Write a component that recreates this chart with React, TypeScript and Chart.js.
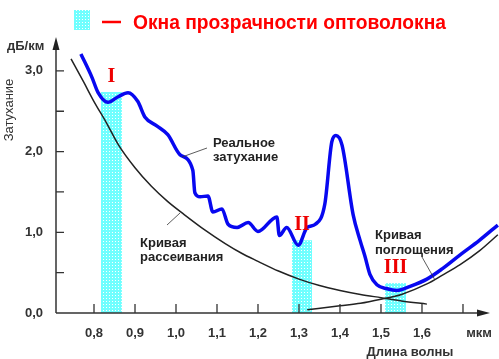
import React, { useEffect, useRef } from "react";
import { Chart, registerables } from "chart.js";
Chart.register(...registerables);

// Real attenuation (blue)
const realX = [0.768, 0.795, 0.81, 0.834, 0.859, 0.883, 0.907, 0.924, 0.953, 0.98, 1.01, 1.041, 1.046, 1.059, 1.078, 1.09, 1.112, 1.127, 1.149, 1.176, 1.2, 1.246, 1.252, 1.27, 1.298, 1.32, 1.34, 1.363, 1.38, 1.39, 1.405, 1.432, 1.449, 1.461, 1.473, 1.49, 1.515, 1.539, 1.571, 1.612, 1.65, 1.693, 1.74, 1.785];
const realY = [3.21, 2.92, 2.73, 2.61, 2.68, 2.73, 2.62, 2.43, 2.32, 2.21, 1.96, 1.77, 1.49, 1.44, 1.45, 1.25, 1.29, 1.1, 1.06, 1.12, 1.01, 1.19, 0.96, 1.06, 0.84, 1.06, 1.1, 1.35, 2.12, 2.2, 2.08, 1.22, 0.9, 0.7, 0.48, 0.35, 0.3, 0.28, 0.33, 0.42, 0.55, 0.72, 0.9, 1.09];

// Scattering curve
const scatterX = [0.744, 0.775, 0.8, 0.83, 0.86, 0.9, 0.94, 0.98, 1.02, 1.07, 1.12, 1.16, 1.2, 1.25, 1.3, 1.35, 1.4, 1.45, 1.5, 1.55, 1.612];
const scatterY = [3.15, 2.86, 2.62, 2.36, 2.08, 1.8, 1.57, 1.38, 1.22, 1.03, 0.86, 0.74, 0.64, 0.52, 0.42, 0.34, 0.28, 0.23, 0.19, 0.15, 0.11];

// Absorption curve
const absorbX = [1.32, 1.4, 1.45, 1.5, 1.55, 1.612, 1.65, 1.693, 1.74, 1.785];
const absorbY = [0.04, 0.09, 0.12, 0.17, 0.23, 0.36, 0.47, 0.6, 0.77, 0.97];

// Transparency windows
const windowStart = [0.817, 1.283, 1.51];
const windowEnd = [0.868, 1.332, 1.561];
const windowTop = [2.74, 0.9, 0.37];
const windowLabels = ["I", "II", "III"];

// Ticks
const xTicks = [0.8, 0.9, 1.0, 1.1, 1.2, 1.3, 1.4, 1.5, 1.6, 1.7];
const xTickLabels = ["0,8", "0,9", "1,0", "1,1", "1,2", "1,3", "1,4", "1,5", "1,6", ""];
const yTicks = [0, 0.5, 1.0, 1.5, 2.0, 2.5, 3.0];
const yTickLabels = ["0,0", "", "1,0", "", "2,0", "", "3,0"];

const title = "Окна прозрачности оптоволокна";
const FONT = "'Liberation Sans', Arial, sans-serif";

function makePattern(): CanvasPattern | string {
  const c = document.createElement("canvas");
  c.width = 3;
  c.height = 3;
  const g = c.getContext("2d");
  if (!g) return "#80ffff";
  g.fillStyle = "#70ffff";
  g.fillRect(0, 0, 3, 3);
  g.fillStyle = "#ffffff";
  g.fillRect(1, 1, 1, 1);
  const p = g.createPattern(c, "repeat");
  return p || "#80ffff";
}

export default function App() {
  const ref = useRef<HTMLCanvasElement | null>(null);
  useEffect(() => {
    const canvas = ref.current;
    if (!canvas) return;
    const pattern = makePattern();

    const decor = {
      id: "decor",
      afterDatasetsDraw(chart: any) {
        const ctx = chart.ctx as CanvasRenderingContext2D;
        const xs = chart.scales.x;
        const ys = chart.scales.y;
        const ox = xs.left;
        const oy = ys.bottom;
        ctx.save();
        // axes
        ctx.strokeStyle = "#333";
        ctx.fillStyle = "#222";
        ctx.lineWidth = 1.5;
        ctx.beginPath();
        ctx.moveTo(ox, oy);
        ctx.lineTo(ox, 46);
        ctx.moveTo(ox, oy);
        ctx.lineTo(480, oy);
        ctx.stroke();
        ctx.beginPath();
        ctx.moveTo(ox, 37);
        ctx.lineTo(ox - 3.5, 50);
        ctx.lineTo(ox + 3.5, 50);
        ctx.closePath();
        ctx.fill();
        ctx.beginPath();
        ctx.moveTo(490, oy);
        ctx.lineTo(477, oy - 3.5);
        ctx.lineTo(477, oy + 3.5);
        ctx.closePath();
        ctx.fill();
        // tick marks
        ctx.lineWidth = 1.3;
        ctx.beginPath();
        yTicks.forEach((v) => {
          if (v === 0) return;
          const py = ys.getPixelForValue(v);
          ctx.moveTo(ox, py);
          ctx.lineTo(ox + 8, py);
        });
        xTicks.forEach((v) => {
          const px = xs.getPixelForValue(v);
          ctx.moveTo(px, oy);
          ctx.lineTo(px, oy - 9);
        });
        ctx.stroke();

        // axis texts
        ctx.fillStyle = "#333";
        ctx.font = `bold 13px ${FONT}`;
        ctx.textAlign = "center";
        ctx.textBaseline = "middle";
        ctx.fillText("мкм", 479, 333);
        ctx.fillText("Длина волны", 410, 352);
        ctx.textAlign = "left";
        ctx.fillText("дБ/км", 7, 46);
        ctx.save();
        ctx.translate(9, 110);
        ctx.rotate(-Math.PI / 2);
        ctx.textAlign = "center";
        ctx.font = `13px ${FONT}`;
        ctx.fillText("Затухание", 0, 0);
        ctx.restore();

        // curve labels
        ctx.fillStyle = "#222";
        ctx.font = `bold 13px ${FONT}`;
        ctx.textAlign = "left";
        ctx.textBaseline = "alphabetic";
        ctx.fillText("Реальное", 213, 147);
        ctx.fillText("затухание", 213, 161);
        ctx.fillText("Кривая", 140, 247);
        ctx.fillText("рассеивания", 140, 261);
        ctx.fillText("Кривая", 375, 239);
        ctx.fillText("поглощения", 375, 254);
        ctx.strokeStyle = "#333";
        ctx.lineWidth = 0.8;
        ctx.beginPath();
        ctx.moveTo(182, 157);
        ctx.lineTo(207, 148);
        ctx.moveTo(167, 225);
        ctx.lineTo(180, 213);
        ctx.moveTo(422, 257);
        ctx.lineTo(435, 280);
        ctx.stroke();

        // roman numerals
        ctx.fillStyle = "#ee0000";
        ctx.font = `bold 20px 'Liberation Serif', 'Times New Roman', serif`;
        ctx.textAlign = "center";
        windowLabels.forEach((lab, i) => {
          const cx = xs.getPixelForValue((windowStart[i] + windowEnd[i]) / 2);
          const ty = ys.getPixelForValue(windowTop[i]);
          ctx.fillText(lab, cx, ty - 10);
        });

        // title legend
        ctx.fillStyle = pattern as any;
        ctx.fillRect(74, 10, 16, 20);
        ctx.strokeStyle = "#ff0000";
        ctx.lineWidth = 2.5;
        ctx.beginPath();
        ctx.moveTo(102, 22);
        ctx.lineTo(121, 22);
        ctx.stroke();
        ctx.fillStyle = "#ff0000";
        ctx.font = `bold 20px ${FONT}`;
        ctx.textAlign = "left";
        ctx.fillText(title, 133, 29, 313);
        ctx.restore();
      },
    };

    const windowSets = windowStart.map((s, i) => ({
      label: "window" + i,
      data: [
        { x: s, y: windowTop[i] },
        { x: windowEnd[i], y: windowTop[i] },
      ],
      borderWidth: 0,
      borderColor: "rgba(0,0,0,0)",
      backgroundColor: pattern as any,
      fill: "origin",
      pointRadius: 0,
      tension: 0,
    }));

    const chart = new Chart(canvas, {
      type: "line",
      data: {
        datasets: [
          {
            label: "Реальное затухание",
            data: realX.map((x, i) => ({ x, y: realY[i] })),
            borderColor: "#0808f0",
            borderWidth: 3.5,
            pointRadius: 0,
            cubicInterpolationMode: "monotone",
            fill: false,
          },
          {
            label: "Кривая рассеивания",
            data: scatterX.map((x, i) => ({ x, y: scatterY[i] })),
            borderColor: "#222",
            borderWidth: 1.5,
            pointRadius: 0,
            cubicInterpolationMode: "monotone",
            fill: false,
          },
          {
            label: "Кривая поглощения",
            data: absorbX.map((x, i) => ({ x, y: absorbY[i] })),
            borderColor: "#222",
            borderWidth: 1.5,
            pointRadius: 0,
            cubicInterpolationMode: "monotone",
            fill: false,
          },
          ...windowSets,
        ] as any,
      },
      options: {
        animation: false,
        responsive: false,
        maintainAspectRatio: false,
        clip: false as any,
        layout: { padding: { top: 37, right: 1, left: 0, bottom: 0 } },
        plugins: { legend: { display: false }, tooltip: { enabled: false } },
        scales: {
          x: {
            type: "linear",
            min: 0.7073,
            max: 1.7854,
            border: { display: false },
            grid: { display: false, drawTicks: false },
            afterBuildTicks: (s: any) => {
              s.ticks = xTicks.map((v) => ({ value: v }));
            },
            afterFit: (s: any) => {
              s.height = 46;
            },
            ticks: {
              autoSkip: false,
              maxRotation: 0,
              padding: 13,
              color: "#333",
              font: { family: FONT, size: 13, weight: "bold" },
              callback: (_v: any, i: number) => xTickLabels[i],
            },
          },
          y: {
            type: "linear",
            min: 0,
            max: 3.42,
            border: { display: false },
            grid: { display: false, drawTicks: false },
            afterBuildTicks: (s: any) => {
              s.ticks = yTicks.map((v) => ({ value: v }));
            },
            afterFit: (s: any) => {
              s.width = 56;
            },
            ticks: {
              autoSkip: false,
              padding: 13,
              color: "#333",
              font: { family: FONT, size: 13, weight: "bold" },
              callback: (_v: any, i: number) => yTickLabels[i],
            },
          },
        },
      } as any,
      plugins: [decor],
    });
    return () => chart.destroy();
  }, []);

  return (
    <div style={{ position: "fixed", left: 0, top: 0, width: 499, height: 359, background: "#fff" }}>
      <canvas ref={ref} width={499} height={359} style={{ width: 499, height: 359, display: "block" }} />
    </div>
  );
}
